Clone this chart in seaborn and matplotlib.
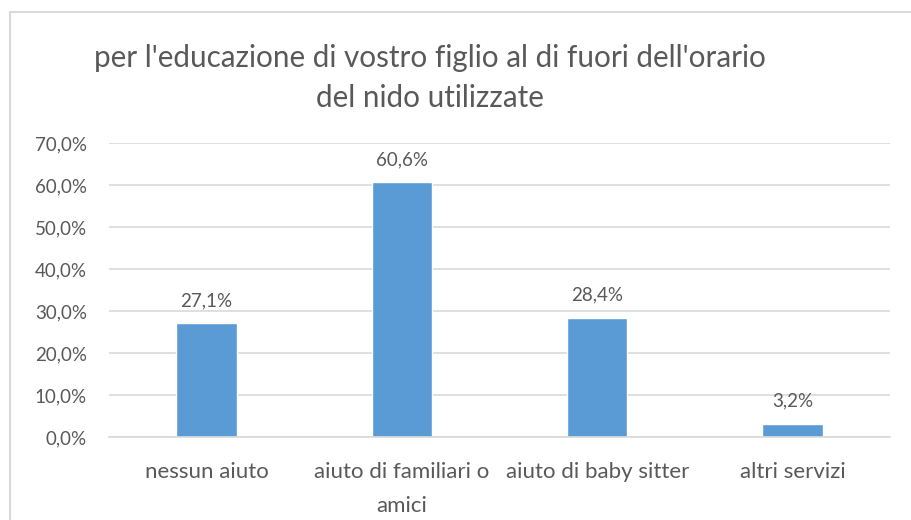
import matplotlib
matplotlib.use("Agg")
import matplotlib.pyplot as plt
import seaborn as sns
import pandas as pd
from matplotlib.patches import Rectangle

categories = ["nessun aiuto", "aiuto di familiari o\namici", "aiuto di baby sitter", "altri servizi"]
values = [27.1, 60.6, 28.4, 3.2]
yticks = [0, 10, 20, 30, 40, 50, 60, 70]
title = "per l'educazione di vostro figlio al di fuori dell'orario\ndel nido utilizzate"

sns.set_theme(style="white")
plt.rcParams['font.family'] = ['Lato', 'DejaVu Sans']

txt = "#595959"
df = pd.DataFrame({"cat": categories, "val": values})

fig = plt.figure(figsize=(9.12, 5.2), dpi=100)
ax = fig.add_axes([0.1195, 0.1596, 0.8565, 0.5654])
sns.barplot(data=df, x="cat", y="val", color="#5B9BD5", width=0.31, ax=ax, saturation=1)

ax.set_ylim(0, 70)
ax.set_yticks(yticks)
ax.set_yticklabels([f"{v:.1f}%".replace(".", ",") for v in yticks], color=txt, fontsize=13.5)
ax.yaxis.grid(True, color="#D9D9D9", linewidth=1.2)
ax.set_axisbelow(True)
for s in ["top", "right", "left"]:
    ax.spines[s].set_visible(False)
ax.spines["bottom"].set_color("#D9D9D9")
ax.spines["bottom"].set_linewidth(1.2)
ax.tick_params(axis="x", length=0, pad=18)
ax.tick_params(axis="y", length=0, pad=16)
for lbl in ax.get_xticklabels():
    lbl.set_color(txt)
    lbl.set_fontsize(16)
    lbl.set_linespacing(1.85)
    lbl.set_multialignment("center")
ax.set_xlabel("")
ax.set_ylabel("")

for i, v in enumerate(values):
    ax.text(i, v + 3.3, f"{v:.1f}%".replace(".", ","), ha="center", va="bottom",
            color=txt, fontsize=13.5)

fig.text(0.4715, 0.85, title, ha="center", va="center", fontsize=21.3,
         color=txt, linespacing=1.5)

fig.patches.append(Rectangle((0.0105, -0.05), 1.1, 1.0275, transform=fig.transFigure,
                             fill=False, edgecolor="#D9D9D9", linewidth=1.5, figure=fig))

fig.savefig("out.png", dpi=100, facecolor="white")
